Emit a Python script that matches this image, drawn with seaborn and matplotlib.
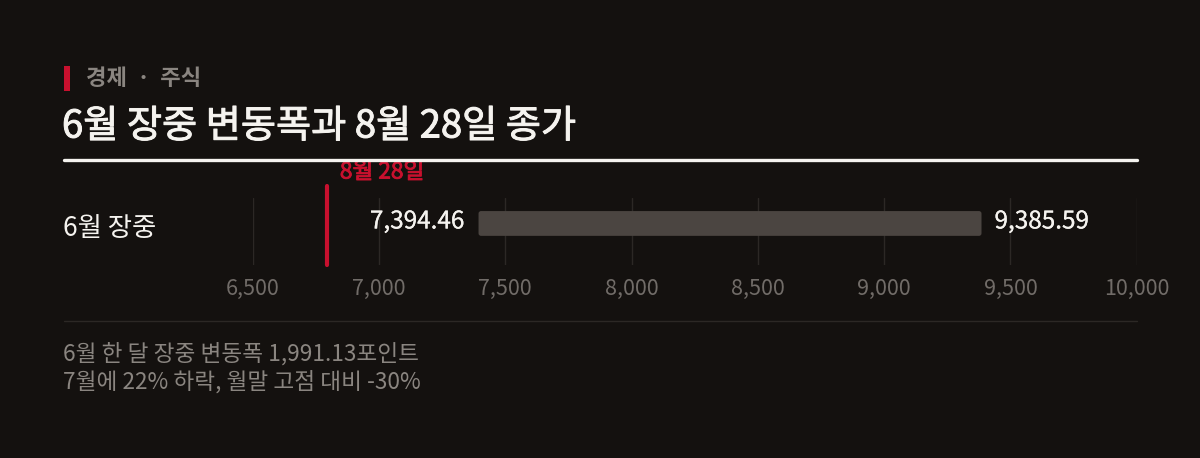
import matplotlib
matplotlib.use("Agg")
import matplotlib.pyplot as plt
import matplotlib.patheffects as pe
import seaborn as sns
import pandas as pd
from matplotlib.patches import FancyBboxPatch
from matplotlib.transforms import IdentityTransform

# ---- data ----
categories = ["6월 장중"]
range_low = [7394.46]
range_high = [9385.59]
marker_value = 6794.0
marker_label = "8월 28일"
tick_values = [6500, 7000, 7500, 8000, 8500, 9000, 9500, 10000]
tick_labels = ["6,500", "7,000", "7,500", "8,000", "8,500", "9,000", "9,500", "10,000"]
kicker = "경제  ·  주식"
title = "6월 장중 변동폭과 8월 28일 종가"
notes = ["6월 한 달 장중 변동폭 1,991.13포인트", "7월에 22% 하락, 월말 고점 대비 -30%"]

BG = "#14110f"
BAR = "#4b4541"
RED = "#c8102e"
GRID = "#2c2825"
GRAY = "#8a8580"
TICK = "#716c68"
WHITE = "#f5f3ef"

sns.set_theme(style="dark")
plt.rcParams["font.family"] = ["Noto Sans CJK KR", "DejaVu Sans"]

W, H = 1200, 458
fig = plt.figure(figsize=(W / 100, H / 100), dpi=100, facecolor=BG)

def fx(px):
    return px / W

def fy(py):
    return 1 - py / H

def semi(color, w=0.9):
    return [pe.withStroke(linewidth=w, foreground=color)]

ax = fig.add_axes([fx(252.6), fy(265), fx(1136.7) - fx(252.6), (265 - 198) / H])
ax.set_facecolor(BG)

df = pd.DataFrame({"cat": categories, "low": range_low, "high": range_high})
sns.barplot(data=df, x="high", y="cat", orient="h", color=BAR, width=0.37,
            saturation=1, ax=ax, zorder=3)
ax.set_xlim(6500, 10000)
ax.set_ylim(0.62, -0.38)

# turn bar into a range bar (low -> high) with rounded corners
fig.canvas.draw()
for patch, lo, hi in zip(ax.patches, df["low"], df["high"]):
    patch.set_x(lo)
    patch.set_width(hi - lo)
for patch in list(ax.patches):
    bb = patch.get_window_extent()
    r = 2.5
    fp = FancyBboxPatch((bb.x0 + r, bb.y0 + r), bb.width - 2 * r, bb.height - 2 * r,
                        boxstyle=f"round,pad={r}", transform=IdentityTransform(),
                        facecolor=BAR, edgecolor="none", zorder=3)
    fig.patches.append(fp)
    fp.set_figure(fig)
    patch.set_visible(False)

for lo, hi, cat in zip(df["low"], df["high"], df["cat"]):
    yc = list(df["cat"]).index(cat)
    ax.annotate(f"{lo:,.2f}", (lo, yc), xytext=(-14, 2), textcoords="offset pixels",
                ha="right", va="center", color=WHITE, fontsize=17.5,
                path_effects=semi(WHITE, 0.15))
    ax.annotate(f"{hi:,.2f}", (hi, yc), xytext=(13, 2), textcoords="offset pixels",
                ha="left", va="center", color=WHITE, fontsize=17.5,
                path_effects=semi(WHITE, 0.15))

# marker line
ax.axvline(marker_value, ymin=0, ymax=(265 - 186) / 67, color=RED, lw=3,
           clip_on=False, zorder=4)
ax.annotate(marker_label, (marker_value, 1), xycoords=("data", "axes fraction"),
            xytext=(13, 26), textcoords="offset pixels", ha="left", va="center",
            color=RED, fontsize=16.3, annotation_clip=False,
            path_effects=semi(RED, 0.6))

ax.set_xticks(tick_values)
ax.set_xticklabels(tick_labels, color=TICK, fontsize=15.5)
ax.tick_params(axis="x", length=0, pad=9)
ax.set_yticks([])
ax.set_xlabel("")
ax.set_ylabel("")
ax.grid(axis="x", color=GRID, lw=1)
ax.grid(axis="y", visible=False)
for s in ax.spines.values():
    s.set_visible(False)

# category label
for cat in categories:
    fig.text(fx(63), fy(229), cat, ha="left", va="center", color=WHITE,
             fontsize=19, fontweight="light")

# header
fig.patches.append(plt.Rectangle((fx(64), fy(91)), fx(6), 25 / H, transform=fig.transFigure,
                                 facecolor=RED, edgecolor="none"))
fig.text(fx(86), fy(78), kicker, ha="left", va="center", color=GRAY,
         fontsize=16, fontweight="bold")
fig.text(fx(62), fy(127), title, ha="left", va="center", color=WHITE,
         fontsize=27.5, path_effects=semi(WHITE, 0.7))
fig.add_artist(plt.Line2D([fx(64), fx(1137)], [fy(159.5), fy(159.5)], color=WHITE, lw=2.4))
fig.add_artist(plt.Line2D([fx(64), fx(1137)], [fy(320.5), fy(320.5)], color=GRID, lw=1))

fig.text(fx(63), fy(354), notes[0], ha="left", va="center", color=GRAY,
         fontsize=16.3, fontweight="light")
fig.text(fx(63), fy(383), notes[1], ha="left", va="center", color=GRAY,
         fontsize=16.3, fontweight="light")

fig.savefig("out.png", dpi=100, facecolor=BG)
